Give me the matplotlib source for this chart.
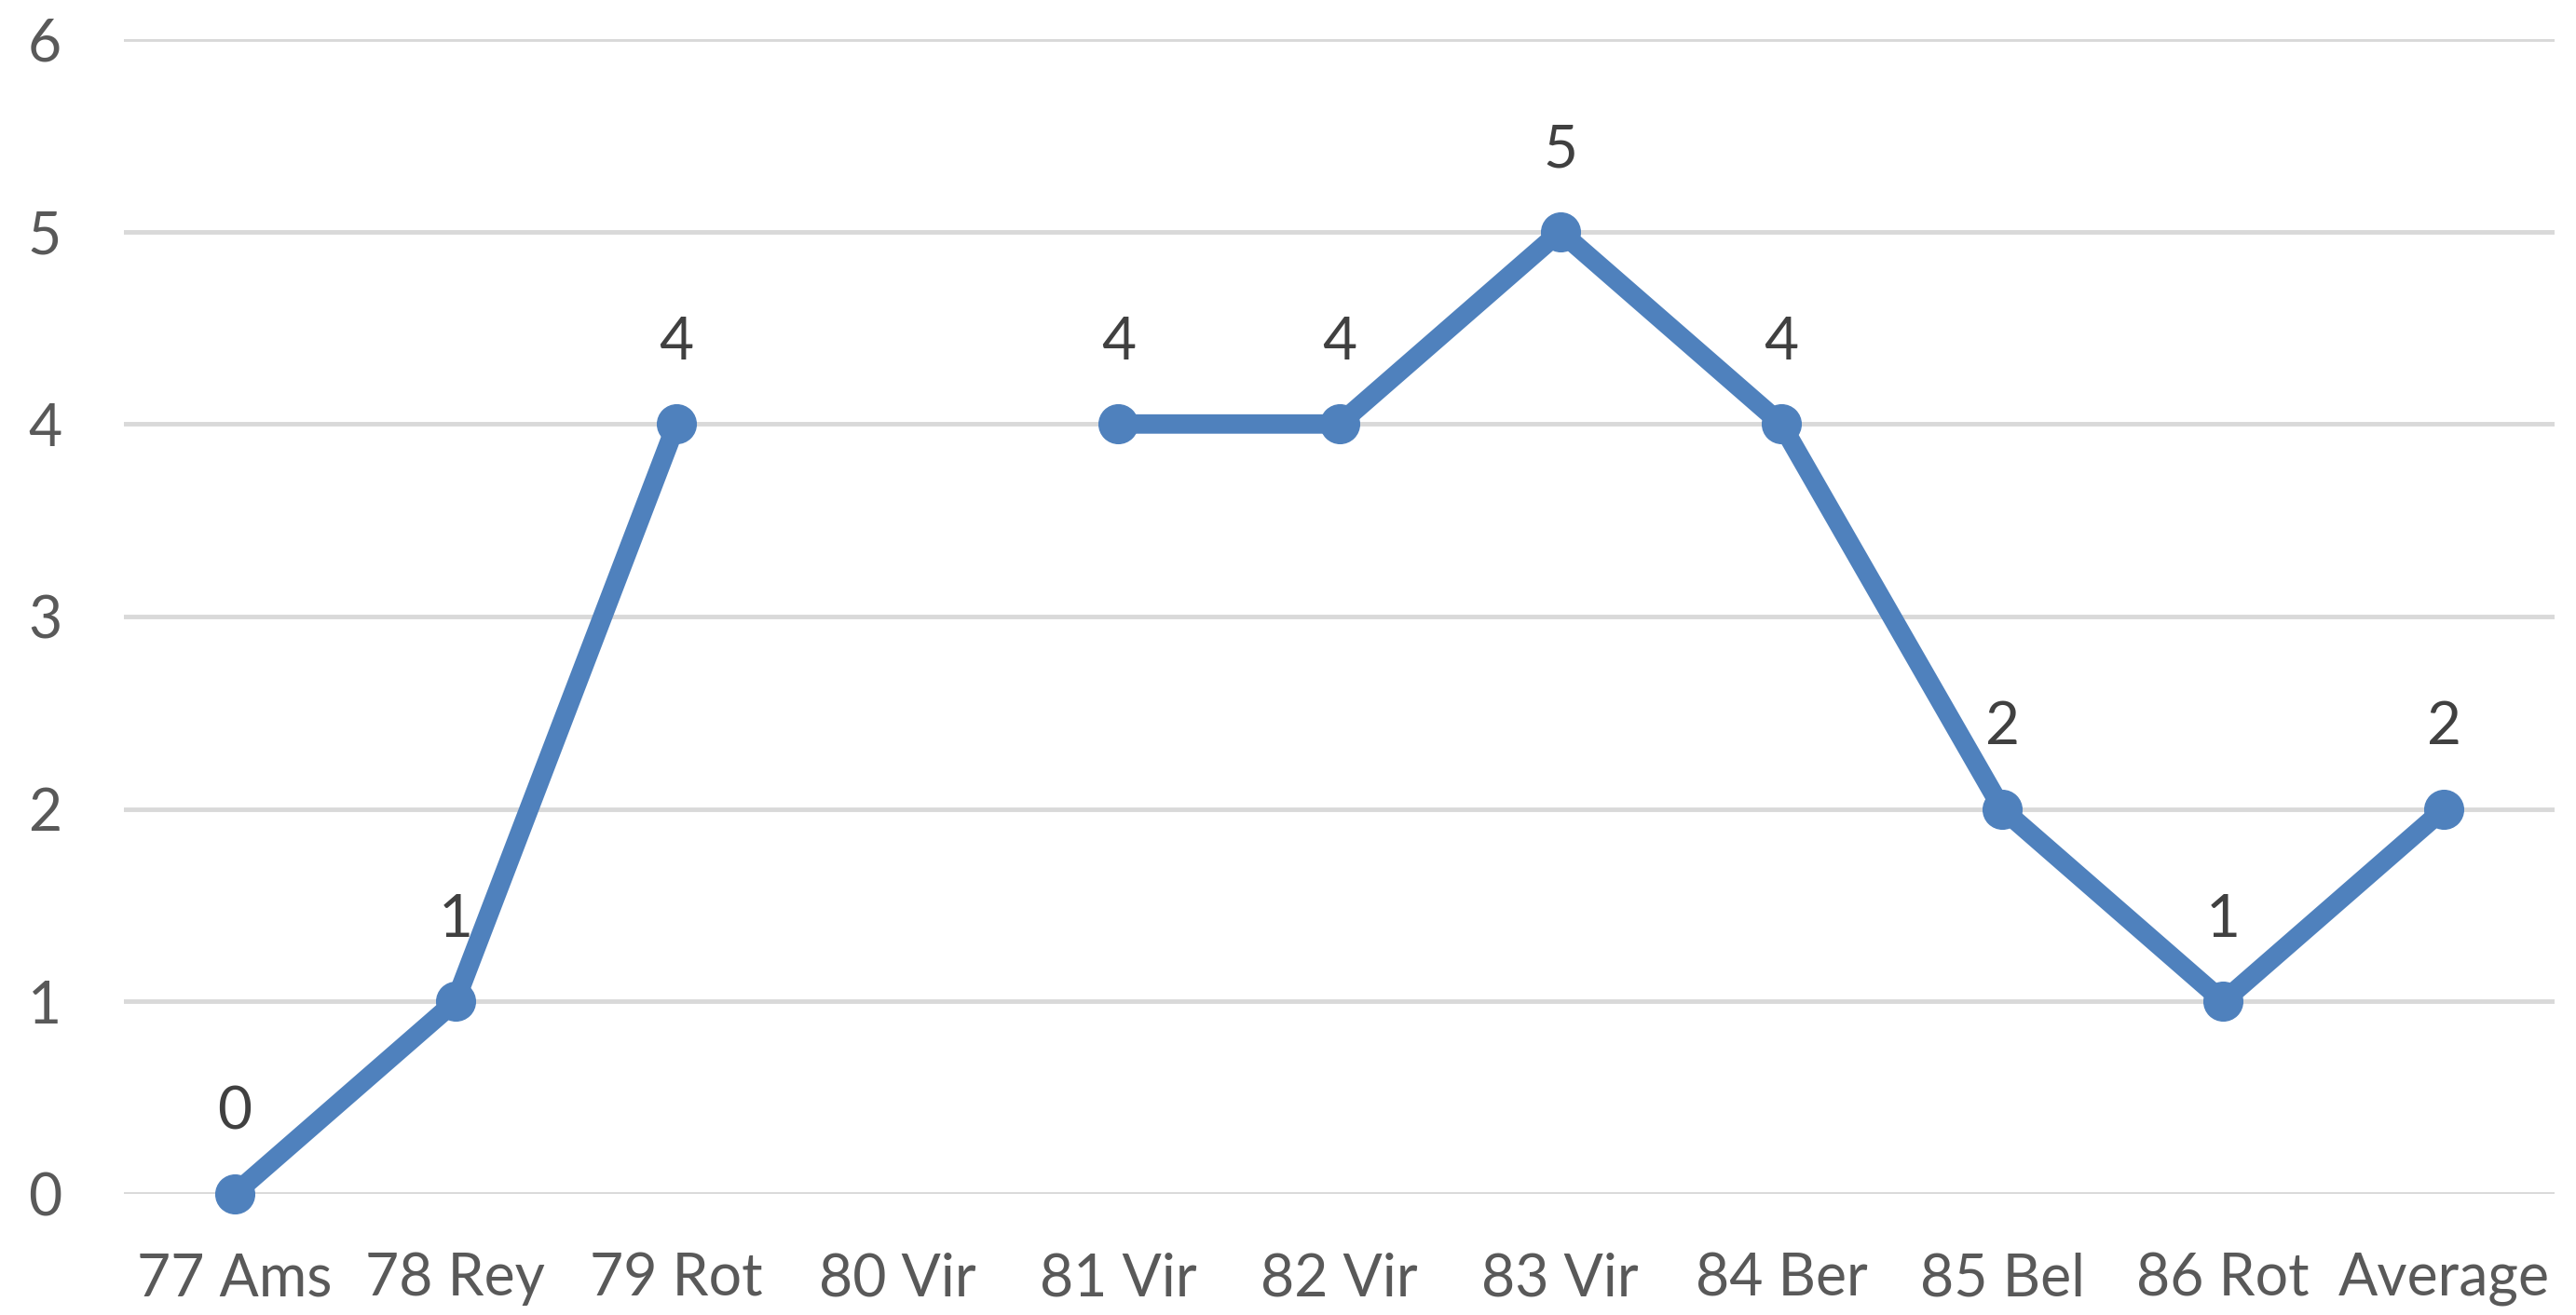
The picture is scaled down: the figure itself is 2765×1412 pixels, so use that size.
import numpy as np
import matplotlib
matplotlib.use("Agg")
import matplotlib.pyplot as plt

# data (80 Vir has no value -> gap)
categories = ['77 Ams', '78 Rey', '79 Rot', '80 Vir', '81 Vir', '82 Vir',
              '83 Vir', '84 Ber', '85 Bel', '86 Rot', 'Average']
values = [0, 1, 4, np.nan, 4, 4, 5, 4, 2, 1, 2]
yticks = [0, 1, 2, 3, 4, 5, 6]

plt.rcParams['font.family'] = ['Lato', 'DejaVu Sans']

fig = plt.figure(figsize=(27.65, 14.12), dpi=100)
ax = fig.add_axes([0.0481, 0.0921, 0.9436, 0.8782])

x = np.arange(len(categories))
ax.plot(x, values, color='#4F81BD', linewidth=15, marker='o',
        markersize=30, solid_capstyle='round', solid_joinstyle='round',
        zorder=3, clip_on=False)

for xi, v in zip(x, values):
    if np.isnan(v):
        continue
    ax.annotate(f'{v:g}', (xi, v), xytext=(0, 50), textcoords='offset points',
                ha='center', va='baseline', fontsize=46, color='#404040',
                zorder=4)

ax.set_xlim(-0.5, len(categories) - 0.5)
ax.set_ylim(0, 6)
ax.set_yticks(yticks)
ax.set_xticks(x)
ax.set_xticklabels(categories)
ax.grid(axis='y', color='#D9D9D9', linewidth=3.5)
ax.set_axisbelow(True)
for s in ax.spines.values():
    s.set_visible(False)
ax.tick_params(axis='both', length=0, labelsize=45, labelcolor='#595959')
ax.tick_params(axis='y', pad=48)
ax.tick_params(axis='x', pad=45)

fig.savefig('out.png', dpi=100)
